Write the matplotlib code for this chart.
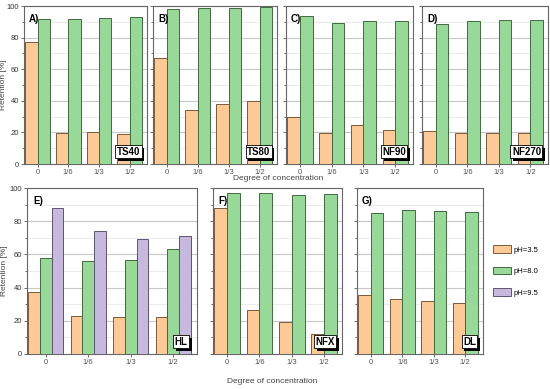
import numpy as np
import matplotlib
matplotlib.use("Agg")
import matplotlib.pyplot as plt
from matplotlib.patches import Patch
import matplotlib.patheffects as pe

plt.rcParams['font.family'] = ['Liberation Sans', 'DejaVu Sans']

cats = ["0", "1/6", "1/3", "1/2"]

# retention values per membrane and pH
ts40_35 = [77.1, 19.7, 20.3, 19.3]
ts40_80 = [92.0, 92.0, 92.6, 93.0]
ts80_35 = [67.4, 34.3, 37.9, 39.8]
ts80_80 = [97.9, 98.7, 98.5, 99.2]
nf90_35 = [29.7, 19.7, 24.8, 21.6]
nf90_80 = [93.9, 89.4, 90.3, 90.7]
nf270_35 = [20.6, 19.7, 19.7, 19.7]
nf270_80 = [88.8, 90.7, 90.9, 90.9]
hl_35 = [37.2, 22.7, 22.5, 22.5]
hl_80 = [58.1, 56.3, 56.7, 63.2]
hl_95 = [87.7, 73.8, 69.4, 70.8]
nfx_35 = [87.7, 26.4, 19.1, 12.1]
nfx_80 = [97.0, 96.8, 95.6, 96.4]
dl_35 = [35.4, 33.2, 32.0, 30.8]
dl_80 = [85.1, 86.5, 86.1, 85.7]

c_or = "#FDC997"
c_gr = "#98D898"
c_pu = "#C7B8DE"
e_or = "#7A5A3A"
e_gr = "#3F6A3F"
e_pu = "#5E5470"

fig = plt.figure(figsize=(5.5, 3.89), dpi=100)

def panel(rect, letter, name, series, ylab_x=None):
    ax = fig.add_axes(rect)
    x = np.arange(len(cats))
    n = len(series)
    w = 0.4 if n == 2 else 0.275
    for i, (vals, fc, ec) in enumerate(series):
        off = (i - (n - 1) / 2) * w
        ax.bar(x + off, vals, w, color=fc, edgecolor=ec, linewidth=0.7, zorder=3)
    ax.set_ylim(0, 100)
    ax.set_xlim(-0.44, 3.56)
    ax.set_xticks(x)
    ax.set_xticklabels(cats, fontsize=5.5, color="#333333")
    ax.set_yticks([0, 20, 40, 60, 80, 100])
    ax.set_yticks([10, 30, 50, 70, 90], minor=True)
    ax.grid(axis="y", which="major", color="#C8C8C8", linewidth=0.8, zorder=0)
    ax.grid(axis="y", which="minor", color="#E8E8E8", linewidth=0.6, zorder=0)
    ax.tick_params(axis="both", which="both", length=2, width=0.6, colors="#555555", labelsize=5.5, pad=1.5)
    ax.tick_params(axis="y", which="minor", length=1.2)
    if ylab_x is not None:
        ax.set_yticklabels([str(v) for v in [0, 20, 40, 60, 80, 100]], fontsize=5.5, color="#333333")
        ax.set_ylabel("Retention [%]", fontsize=6, color="#444444")
        ax.yaxis.set_label_coords(ylab_x, 0.5)
    else:
        ax.set_yticklabels([])
    for s in ax.spines.values():
        s.set_color("#666666")
        s.set_linewidth(0.8)
    ax.text(0.04, 0.95, letter, transform=ax.transAxes, fontsize=7, fontweight="bold",
            va="top", ha="left", zorder=5)
    t = ax.text(0.945, 0.045, name, transform=ax.transAxes, ha="right", va="bottom",
                fontsize=7, fontweight="bold", color="black", zorder=6,
                bbox=dict(boxstyle="square,pad=0.15", fc="white", ec="black", lw=0.6))
    t.get_bbox_patch().set_path_effects(
        [pe.SimplePatchShadow(offset=(2, -2), shadow_rgbFace="black", alpha=1.0), pe.Normal()])
    return ax

panel([0.0436, 0.5784, 0.2236, 0.406], "A)", "TS40",
      [(ts40_35, c_or, e_or), (ts40_80, c_gr, e_gr)], ylab_x=-0.135)
panel([0.2782, 0.5784, 0.2255, 0.406], "B)", "TS80",
      [(ts80_35, c_or, e_or), (ts80_80, c_gr, e_gr)])
panel([0.5200, 0.5784, 0.2309, 0.406], "C)", "NF90",
      [(nf90_35, c_or, e_or), (nf90_80, c_gr, e_gr)])
panel([0.7673, 0.5784, 0.2290, 0.406], "D)", "NF270",
      [(nf270_35, c_or, e_or), (nf270_80, c_gr, e_gr)])
panel([0.0491, 0.0900, 0.3090, 0.4267], "E)", "HL",
      [(hl_35, c_or, e_or), (hl_80, c_gr, e_gr), (hl_95, c_pu, e_pu)], ylab_x=-0.11)
panel([0.3873, 0.0900, 0.2345, 0.4267], "F)", "NFX",
      [(nfx_35, c_or, e_or), (nfx_80, c_gr, e_gr)])
panel([0.6490, 0.0900, 0.2290, 0.4267], "G)", "DL",
      [(dl_35, c_or, e_or), (dl_80, c_gr, e_gr)])

fig.text(0.505, 0.54, "Degree of concentration", fontsize=6, color="#444444", ha="center", va="center")
fig.text(0.495, 0.02, "Degree of concentration", fontsize=6, color="#444444", ha="center", va="center")

handles = [Patch(facecolor=c_or, edgecolor=e_or, linewidth=0.7, label="pH=3.5"),
           Patch(facecolor=c_gr, edgecolor=e_gr, linewidth=0.7, label="pH=8.0"),
           Patch(facecolor=c_pu, edgecolor=e_pu, linewidth=0.7, label="pH=9.5")]
fig.legend(handles=handles, loc="upper left", bbox_to_anchor=(0.896, 0.37), frameon=False,
           fontsize=5.5, handlelength=2.4, handleheight=1.2, labelspacing=1.7, handletextpad=0.3,
           borderaxespad=0, borderpad=0)

fig.savefig("out.png", dpi=100)
